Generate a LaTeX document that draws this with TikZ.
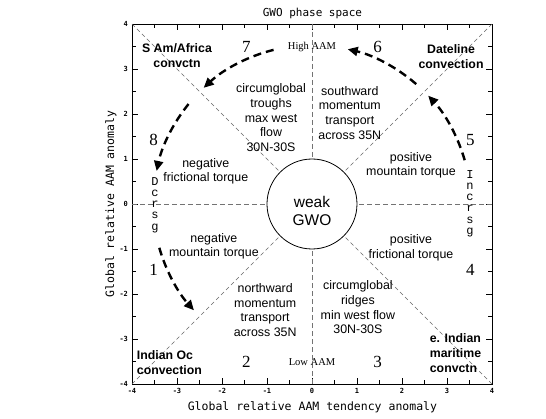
\documentclass[tikz,border=0pt]{standalone}
\usepackage{fontspec}
\setmainfont{Liberation Sans}
\newfontfamily\plotmono{DejaVu Sans Mono}
\newfontfamily\serifnum{Liberation Serif}
\newfontfamily\couriermono{Liberation Mono}
\usetikzlibrary{arrows.meta}
\begin{document}
\begin{tikzpicture}[x=45pt,y=45pt,
  every node/.style={inner sep=0pt, outer sep=0pt},
  guide/.style={draw=black!55, line width=0.8pt, dash pattern=on 5pt off 3pt},
  diag/.style={draw=black!60, line width=0.6pt, dash pattern=on 4pt off 3pt},
  cyclearrow/.style={line width=2.4pt, dash pattern=on 8pt off 5pt, -{Triangle[length=10pt,width=9pt]}},
  region/.style={align=center, font=\fontsize{12.4}{14.7}\selectfont},
  cornerlab/.style={font=\bfseries\fontsize{12.3}{15}\selectfont},
  phasenum/.style={font=\serifnum\fontsize{17}{17}\selectfont},
  aamlab/.style={font=\serifnum\fontsize{10.5}{11}\selectfont},
  ticklab/.style={font=\plotmono\bfseries\fontsize{7}{8}\selectfont},
  axtitle/.style={font=\plotmono\fontsize{11.5}{12}\selectfont},
  vertword/.style={align=center, font=\couriermono\fontsize{12}{11.3}\selectfont},
]
\useasboundingbox (-6.9333,-4.7556) rectangle (5.2,4.5333);

% frame
\draw[line width=0.9pt] (-4,-4) rectangle (4,4);
\foreach \v in {-3,...,3} {
  \draw[line width=0.7pt] (\v,-4) -- ++(0,6pt);
  \draw[line width=0.7pt] (\v,4) -- ++(0,-6pt);
  \draw[line width=0.7pt] (-4,\v) -- ++(6pt,0);
  \draw[line width=0.7pt] (4,\v) -- ++(-6pt,0);
}
\foreach \v in {-3.5,-2.5,-1.5,-0.5,0.5,1.5,2.5,3.5} {
  \draw[line width=0.7pt] (\v,-4) -- ++(0,4pt);
  \draw[line width=0.7pt] (\v,4) -- ++(0,-4pt);
  \draw[line width=0.7pt] (-4,\v) -- ++(4pt,0);
  \draw[line width=0.7pt] (4,\v) -- ++(-4pt,0);
}
\foreach \v [count=\i] in {-4,-3,-2,-1,0,1,2,3,4} {
  \node[ticklab, anchor=north] (xl\i) at (\v,-4.1) {\v};
  \node[ticklab, anchor=east] (yl\i) at (-4.09,\v) {\v};
}

% titles
\node[axtitle, font=\plotmono\fontsize{11}{12}\selectfont] (title) at (0.01,4.24) {GWO phase space};
\node[axtitle] (xtitle) at (0.01,-4.51) {Global relative AAM tendency anomaly};
\node[axtitle, rotate=90] (ytitle) at (-4.47,0) {Global relative AAM anomaly};

% centre circle and guides
\node[draw, circle, minimum size=90pt, line width=0.8pt] (gwo) at (0,0) {};
\coordinate (ctop) at (0,4);
\coordinate (cbot) at (0,-4);
\coordinate (clft) at (-4,0);
\coordinate (crgt) at (4,0);
\coordinate (cnw) at (-4,4);
\coordinate (cne) at (4,4);
\coordinate (csw) at (-4,-4);
\coordinate (cse) at (4,-4);
\draw[guide] (ctop) -- (gwo.north);
\draw[guide] (cbot) -- (gwo.south);
\draw[guide] (clft) -- (gwo.west);
\draw[guide] (crgt) -- (gwo.east);
\draw[diag] (cnw) -- (gwo.north west);
\draw[diag] (cne) -- (gwo.north east);
\draw[diag] (csw) -- (gwo.south west);
\draw[diag] (cse) -- (gwo.south east);
\node[font=\fontsize{15.5}{18}\selectfont, align=center] (gwot) at (0,-0.16) {weak\\GWO};

% phase numbers
\node[phasenum] (p7) at (-1.46,3.5) {7};
\node[phasenum] (p6) at (1.46,3.5) {6};
\node[phasenum] (p8) at (-3.52,1.42) {8};
\node[phasenum] (p5) at (3.52,1.42) {5};
\node[phasenum] (p1) at (-3.52,-1.46) {1};
\node[phasenum] (p4) at (3.52,-1.46) {4};
\node[phasenum] (p2) at (-1.46,-3.5) {2};
\node[phasenum] (p3) at (1.46,-3.5) {3};
\node[aamlab] (high) at (0,3.49) {High AAM};
\node[aamlab] (low) at (0,-3.51) {Low AAM};

% corner labels
\node[cornerlab, align=center] (sam) at (-3.0,3.29) {S Am/Africa\\convctn};
\node[cornerlab, align=center] (dl) at (3.09,3.27) {Dateline\\convection};
\node[cornerlab, align=left, anchor=west] (io) at (-3.89,-3.52) {Indian Oc\\convection};
\node[cornerlab, align=left, anchor=west] (ei) at (2.62,-3.31) {e. Indian\\maritime\\convctn};

% regions
\node[region] (r1) at (-0.91,1.92) {circumglobal\\troughs\\max west\\flow\\30N-30S};
\node[region] (r2) at (0.84,2.03) {southward\\momentum\\transport\\across 35N};
\node[region] (r3) at (-2.36,0.73) {negative\\frictional torque};
\node[region] (r4) at (-2.18,-0.94) {negative\\mountain torque};
\node[region] (r5) at (2.2,0.86) {positive\\mountain torque};
\node[region] (r6) at (2.2,-0.97) {positive\\frictional torque};
\node[region] (r7) at (-1.04,-2.36) {northward\\momentum\\transport\\across 35N};
\node[region] (r8) at (1.02,-2.3) {circumglobal\\ridges\\min west flow\\30N-30S};

% vertical words
\node[vertword] (dcrsg) at (-3.49,-0.02) {D\\c\\r\\s\\g};
\node[vertword] (incrsg) at (3.51,0.01) {I\\n\\c\\r\\s\\g};

% cycle arrows
\coordinate (a7) at (104:3.53);
\coordinate (a8) at (141:3.53);
\coordinate (a1) at (196:3.53);
\coordinate (a5) at (16:3.53);
\coordinate (a6) at (49:3.53);
\draw[cyclearrow] (a7) arc[start angle=104, end angle=133, radius=3.53];
\draw[cyclearrow] (a8) arc[start angle=141, end angle=168, radius=3.53];
\draw[cyclearrow] (a1) arc[start angle=196, end angle=222, radius=3.53];
\draw[cyclearrow] (a5) arc[start angle=16, end angle=43, radius=3.53];
\draw[cyclearrow] (a6) arc[start angle=49, end angle=77, radius=3.53];
\end{tikzpicture}
\end{document}
